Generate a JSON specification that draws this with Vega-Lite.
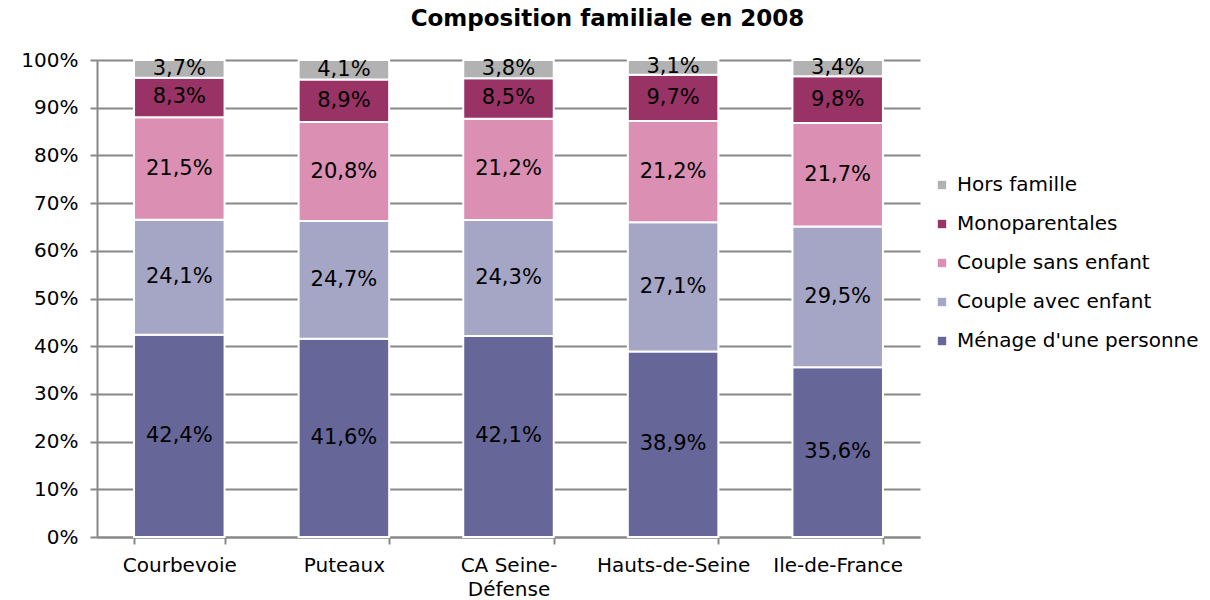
{
  "$schema": "https://vega.github.io/schema/vega-lite/v6.json",
  "width": 823,
  "height": 477,
  "autosize": {"type": "none"},
  "padding": {"left": 97, "top": 60, "right": 290, "bottom": 63},
  "background": "white",
  "title": {"text": "Composition familiale en 2008", "font": "DejaVu Sans", "fontSize": 23, "fontWeight": "bold", "color": "black", "anchor": "middle", "frame": "group", "dx": 99, "offset": 19},
  "config": {
    "locale": {"number": {"decimal": ",", "thousands": " ", "grouping": [3], "currency": ["", " €"]}},
    "view": {"stroke": null},
    "font": "DejaVu Sans"
  },
  "data": {"values": [
    {"zone": "Courbevoie", "categorie": "Ménage d'une personne", "part": 0.424, "rang": 1},
    {"zone": "Courbevoie", "categorie": "Couple avec enfant", "part": 0.241, "rang": 2},
    {"zone": "Courbevoie", "categorie": "Couple sans enfant", "part": 0.215, "rang": 3},
    {"zone": "Courbevoie", "categorie": "Monoparentales", "part": 0.083, "rang": 4},
    {"zone": "Courbevoie", "categorie": "Hors famille", "part": 0.037, "rang": 5},
    {"zone": "Puteaux", "categorie": "Ménage d'une personne", "part": 0.416, "rang": 1},
    {"zone": "Puteaux", "categorie": "Couple avec enfant", "part": 0.247, "rang": 2},
    {"zone": "Puteaux", "categorie": "Couple sans enfant", "part": 0.208, "rang": 3},
    {"zone": "Puteaux", "categorie": "Monoparentales", "part": 0.089, "rang": 4},
    {"zone": "Puteaux", "categorie": "Hors famille", "part": 0.041, "rang": 5},
    {"zone": "CA Seine-Défense", "categorie": "Ménage d'une personne", "part": 0.421, "rang": 1},
    {"zone": "CA Seine-Défense", "categorie": "Couple avec enfant", "part": 0.243, "rang": 2},
    {"zone": "CA Seine-Défense", "categorie": "Couple sans enfant", "part": 0.212, "rang": 3},
    {"zone": "CA Seine-Défense", "categorie": "Monoparentales", "part": 0.085, "rang": 4},
    {"zone": "CA Seine-Défense", "categorie": "Hors famille", "part": 0.038, "rang": 5},
    {"zone": "Hauts-de-Seine", "categorie": "Ménage d'une personne", "part": 0.389, "rang": 1},
    {"zone": "Hauts-de-Seine", "categorie": "Couple avec enfant", "part": 0.271, "rang": 2},
    {"zone": "Hauts-de-Seine", "categorie": "Couple sans enfant", "part": 0.212, "rang": 3},
    {"zone": "Hauts-de-Seine", "categorie": "Monoparentales", "part": 0.097, "rang": 4},
    {"zone": "Hauts-de-Seine", "categorie": "Hors famille", "part": 0.031, "rang": 5},
    {"zone": "Ile-de-France", "categorie": "Ménage d'une personne", "part": 0.356, "rang": 1},
    {"zone": "Ile-de-France", "categorie": "Couple avec enfant", "part": 0.295, "rang": 2},
    {"zone": "Ile-de-France", "categorie": "Couple sans enfant", "part": 0.217, "rang": 3},
    {"zone": "Ile-de-France", "categorie": "Monoparentales", "part": 0.098, "rang": 4},
    {"zone": "Ile-de-France", "categorie": "Hors famille", "part": 0.034, "rang": 5}
  ]},
  "encoding": {
    "x": {
      "field": "zone", "type": "nominal",
      "sort": ["Courbevoie", "Puteaux", "CA Seine-Défense", "Hauts-de-Seine", "Ile-de-France"],
      "scale": {"paddingInner": 0.45, "paddingOuter": 0.225},
      "axis": {
        "title": null, "labelAngle": 0, "labelFontSize": 20, "labelColor": "black", "labelFont": "DejaVu Sans",
        "tickBand": "extent", "tickColor": "#888888", "tickSize": 7, "tickWidth": 2,
        "domainColor": "#888888", "domainWidth": 2, "labelPadding": 11, "labelLineHeight": 24,
        "labelExpr": "datum.label == 'CA Seine-Défense' ? ['CA Seine-', 'Défense'] : datum.label"
      }
    },
    "y": {
      "field": "part", "type": "quantitative", "stack": "normalize",
      "scale": {"domain": [0, 1]},
      "axis": {
        "title": null, "format": ".0%", "values": [0, 0.1, 0.2, 0.3, 0.4, 0.5, 0.6, 0.7, 0.8, 0.9, 1],
        "grid": true, "gridColor": "#888888", "gridWidth": 2,
        "tickColor": "#888888", "tickSize": 7, "tickWidth": 2,
        "domainColor": "#888888", "domainWidth": 2,
        "labelFontSize": 20, "labelColor": "black", "labelPadding": 12, "labelFont": "DejaVu Sans"
      }
    },
    "order": {"field": "rang", "type": "quantitative"}
  },
  "layer": [
    {
      "mark": {"type": "bar", "stroke": "white", "strokeWidth": 2},
      "encoding": {
        "color": {
          "field": "categorie", "type": "nominal",
          "scale": {
            "domain": ["Hors famille", "Monoparentales", "Couple sans enfant", "Couple avec enfant", "Ménage d'une personne"],
            "range": ["#B2B2B2", "#993366", "#DA8FB3", "#A5A5C5", "#666699"]
          },
          "legend": {
            "title": null, "orient": "none", "legendX": 835, "legendY": 115,
            "symbolType": "square", "symbolSize": 70, "symbolStrokeWidth": 0,
            "labelFontSize": 20, "labelColor": "black", "labelFont": "DejaVu Sans", "labelLimit": 0,
            "rowPadding": 19, "labelOffset": 5
          }
        }
      }
    },
    {
      "mark": {"type": "text", "fontSize": 21, "color": "black", "font": "DejaVu Sans", "baseline": "middle"},
      "encoding": {
        "y": {"field": "part", "type": "quantitative", "stack": "normalize", "bandPosition": 0.5},
        "text": {"field": "part", "type": "quantitative", "format": ".1%"}
      }
    }
  ]
}
